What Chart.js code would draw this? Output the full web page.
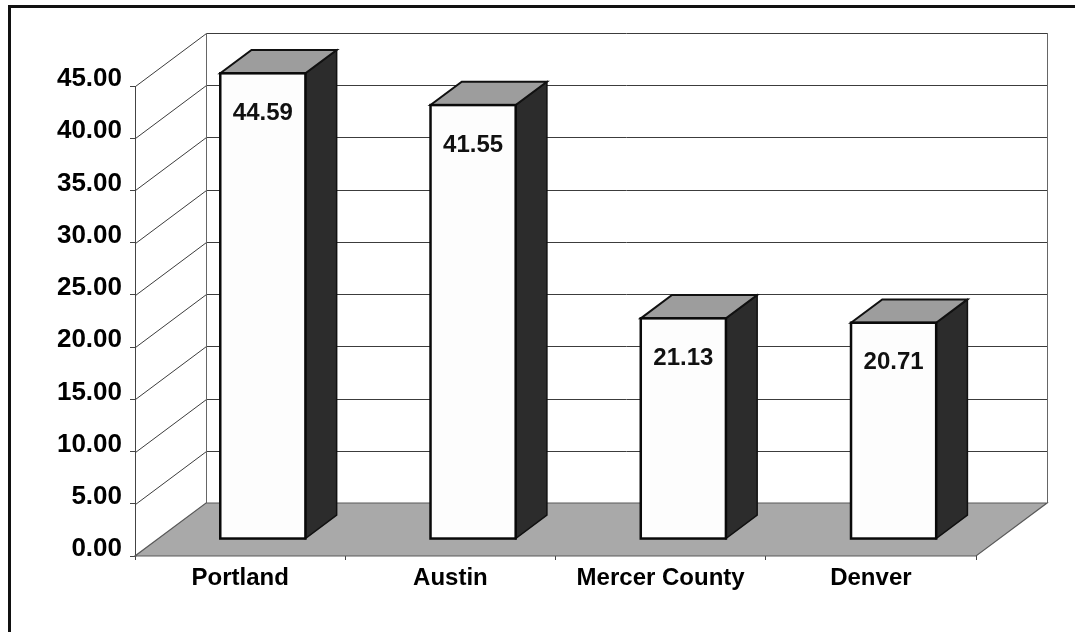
<!DOCTYPE html>
<html>
<head>
<meta charset="utf-8">
<script src="https://cdn.jsdelivr.net/npm/chart.js@4/dist/chart.umd.min.js"></script>
<style>
  html, body { margin: 0; padding: 0; background: #ffffff; }
  #wrap { width: 1075px; height: 632px; position: relative; }
</style>
</head>
<body>
<div id="wrap"><canvas id="c" width="1075" height="632"></canvas></div>
<script>
// Chart values
const categories = ['Portland', 'Austin', 'Mercer County', 'Denver'];
const values = [44.59, 41.55, 21.13, 20.71];
const yTickLabels = ['0.00', '5.00', '10.00', '15.00', '20.00', '25.00', '30.00', '35.00', '40.00', '45.00'];

const FONT = '"Liberation Sans", Arial, Helvetica, sans-serif';

// Depth of the 3-D box (floor runs back by DX, up by DY)
const DX = 71, DY = 53;
const BAR_FRONT = 0.32;  // where the bar's front face sits within the depth
const BAR_DEPTH = 0.44;  // how deep each bar is

function line(ctx, x1, y1, x2, y2) {
  ctx.beginPath();
  ctx.moveTo(x1, y1);
  ctx.lineTo(x2, y2);
  ctx.stroke();
}
function poly(ctx, pts) {
  ctx.beginPath();
  ctx.moveTo(pts[0][0], pts[0][1]);
  for (let i = 1; i < pts.length; i++) ctx.lineTo(pts[i][0], pts[i][1]);
  ctx.closePath();
}

const box3d = {
  id: 'box3d',
  beforeDatasetsDraw(chart) {
    const ctx = chart.ctx;
    const { left, right, top, bottom } = chart.chartArea;
    const ys = chart.scales.y;
    ctx.save();
    // back wall
    ctx.fillStyle = '#ffffff';
    ctx.fillRect(left + DX, top - DY, right - left, bottom - top);
    ctx.strokeStyle = '#3c3c3c';
    ctx.lineWidth = 1;
    ys.ticks.forEach(t => {
      const yf = Math.round(ys.getPixelForValue(t.value)) + 0.5;
      const yb = yf - DY;
      line(ctx, left + DX, yb, right + DX, yb);        // back gridline
      line(ctx, left + 0.5, yf, left + DX + 0.5, yb);  // side wall gridline
    });
    ctx.strokeStyle = '#666666';
    line(ctx, Math.round(left + DX) + 0.5, top - DY, Math.round(left + DX) + 0.5, bottom - DY);
    line(ctx, Math.round(right + DX) + 0.5, top - DY, Math.round(right + DX) + 0.5, bottom - DY);
    // floor
    poly(ctx, [[left, bottom], [right, bottom], [right + DX, bottom - DY], [left + DX, bottom - DY]]);
    ctx.fillStyle = '#a9a9a9';
    ctx.fill();
    ctx.strokeStyle = '#5a5a5a';
    ctx.lineWidth = 1.2;
    ctx.stroke();
    ctx.restore();
  },
  afterDatasetsDraw(chart) {
    const ctx = chart.ctx;
    const meta = chart.getDatasetMeta(0);
    const fx = DX * BAR_FRONT, fy = DY * BAR_FRONT;
    const bx = DX * BAR_DEPTH, by = DY * BAR_DEPTH;
    ctx.save();
    meta.data.forEach((el, i) => {
      const xl = el.x - el.width / 2 + fx;
      const xr = xl + el.width;
      const yt = el.y - fy;
      const yb = el.base - fy;
      // side face
      poly(ctx, [[xr, yt], [xr + bx, yt - by], [xr + bx, yb - by], [xr, yb]]);
      ctx.fillStyle = '#2c2c2c';
      ctx.fill();
      ctx.strokeStyle = '#111111';
      ctx.lineWidth = 1.5;
      ctx.stroke();
      // top face
      poly(ctx, [[xl, yt], [xl + bx, yt - by], [xr + bx, yt - by], [xr, yt]]);
      ctx.fillStyle = '#9d9d9d';
      ctx.fill();
      ctx.strokeStyle = '#111111';
      ctx.lineWidth = 2;
      ctx.stroke();
      // front face
      ctx.fillStyle = '#fdfdfd';
      ctx.fillRect(xl, yt, xr - xl, yb - yt);
      ctx.strokeStyle = '#0a0a0a';
      ctx.lineWidth = 2.5;
      ctx.strokeRect(xl, yt, xr - xl, yb - yt);
      // value label
      ctx.fillStyle = '#111111';
      ctx.font = 'bold 24px ' + FONT;
      ctx.textAlign = 'center';
      ctx.textBaseline = 'middle';
      ctx.fillText(values[i].toFixed(2), (xl + xr) / 2, yt + 40);
    });
    ctx.restore();
  },
  afterDraw(chart) {
    const ctx = chart.ctx;
    ctx.save();
    ctx.strokeStyle = '#111111';
    ctx.lineWidth = 3;
    ctx.strokeRect(9.5, 6.5, 1200, 800);
    ctx.restore();
  }
};

new Chart(document.getElementById('c'), {
  type: 'bar',
  data: {
    labels: categories,
    datasets: [{
      data: values,
      backgroundColor: 'rgba(0,0,0,0)',
      borderWidth: 0,
      barPercentage: 0.405,
      categoryPercentage: 1
    }]
  },
  options: {
    responsive: false,
    animation: false,
    events: [],
    layout: { padding: { top: 86, right: 99, left: 0, bottom: 0 } },
    plugins: { legend: { display: false }, tooltip: { enabled: false } },
    scales: {
      x: {
        offset: true,
        afterFit(scale) { scale.height = 76; },
        grid: { display: true, drawOnChartArea: false, offset: true, tickLength: 4, color: '#444444' },
        border: { display: false },
        ticks: {
          color: '#000000',
          padding: 4,
          maxRotation: 0,
          autoSkip: false,
          font: { family: FONT, size: 24, weight: 'bold' }
        }
      },
      y: {
        min: 0,
        max: 45,
        afterFit(scale) { scale.width = 135; },
        grid: { display: true, drawOnChartArea: false, tickLength: 5, color: '#444444' },
        border: { display: true, color: '#444444', width: 1 },
        ticks: {
          stepSize: 5,
          color: '#000000',
          padding: 8,
          labelOffset: -7,
          font: { family: FONT, size: 26, weight: 'bold' },
          callback: (v, i) => yTickLabels[i]
        }
      }
    }
  },
  plugins: [box3d]
});
</script>
</body>
</html>
